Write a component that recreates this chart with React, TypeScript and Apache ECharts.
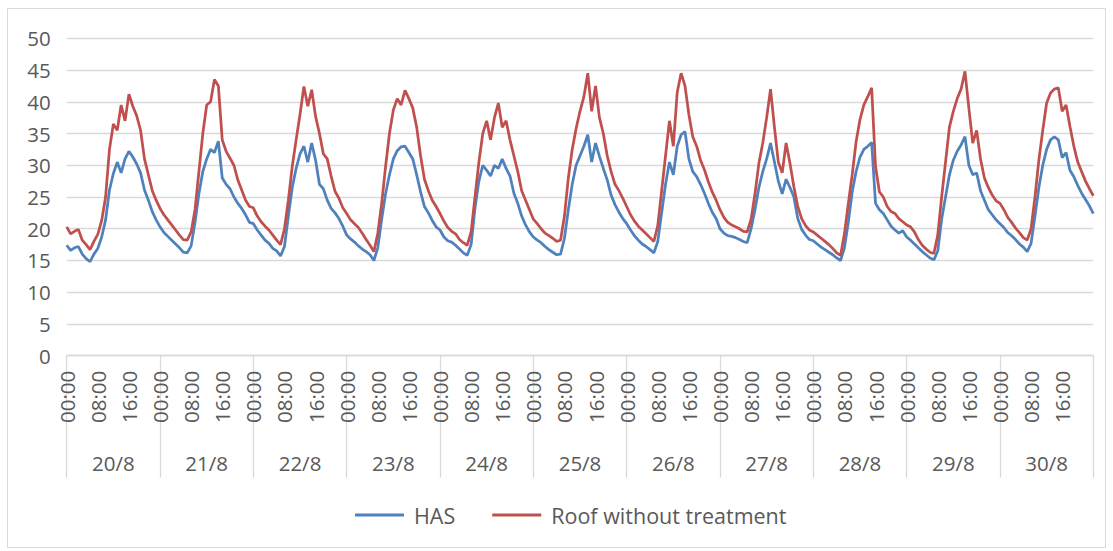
import React, { useEffect, useRef } from "react";
import * as echarts from "echarts";

const days = ["20/8", "21/8", "22/8", "23/8", "24/8", "25/8", "26/8", "27/8", "28/8", "29/8", "30/8"];
const timeLabels = ["00:00", "08:00", "16:00"];
const seriesNames = ["HAS", "Roof without treatment"];

// hourly readings, 20/8 00:00 .. 31/8 00:00
const hasValues = [
  // 20/8
  17.4, 16.6, 17.0, 17.2, 16.0, 15.3, 14.8, 16.0, 16.9, 18.7, 21.4, 26.1, 28.7, 30.5, 28.8, 31.0, 32.2, 31.3, 30.2, 28.8, 26.1, 24.5, 22.7, 21.4,
  // 21/8
  20.3, 19.4, 18.8, 18.2, 17.6, 17.0, 16.3, 16.2, 17.3, 21.0, 25.5, 29.0, 31.0, 32.5, 32.0, 33.8, 28.0, 27.0, 26.3, 25.0, 24.0, 23.2, 22.2, 21.0,
  // 22/8
  20.8, 19.8, 19.0, 18.2, 17.7, 16.9, 16.5, 15.7, 17.2, 22.0, 26.5, 29.5, 31.8, 33.0, 30.5, 33.5, 30.8, 27.0, 26.3, 24.5, 23.2, 22.5, 21.6, 20.4,
  // 23/8
  19.0, 18.4, 17.9, 17.3, 16.8, 16.4, 15.9, 15.0, 17.0, 21.5, 25.5, 28.5, 31.0, 32.3, 32.9, 33.0, 32.0, 31.0, 28.5, 25.8, 23.5, 22.5, 21.3, 20.3,
  // 24/8
  19.8, 18.7, 18.1, 17.9, 17.4, 16.8, 16.2, 15.8, 17.5, 23.3, 27.5, 30.0, 29.2, 28.3, 30.0, 29.5, 31.0, 29.5, 28.3, 25.6, 24.0, 22.0, 20.6, 19.5,
  // 25/8
  18.7, 18.2, 17.8, 17.2, 16.7, 16.3, 15.9, 16.0, 18.5, 23.0, 27.0, 30.0, 31.5, 33.0, 34.8, 30.5, 33.5, 31.4, 29.5, 27.7, 25.3, 23.8, 22.6, 21.6,
  // 26/8
  20.8, 19.8, 18.9, 18.2, 17.6, 17.2, 16.7, 16.2, 18.0, 22.5, 27.0, 30.5, 28.5, 33.0, 34.8, 35.3, 31.0, 29.0, 28.2, 27.0, 25.6, 24.0, 22.6, 21.6,
  // 27/8
  20.0, 19.3, 18.9, 18.8, 18.6, 18.3, 18.0, 17.8, 20.0, 23.0, 26.5, 29.0, 31.0, 33.5, 30.5, 27.5, 25.5, 27.8, 26.5, 25.0, 21.6, 19.9, 19.0, 18.3,
  // 28/8
  18.1, 17.6, 17.1, 16.7, 16.3, 15.9, 15.4, 15.0, 17.0, 21.0, 25.8, 29.0, 31.3, 32.5, 33.0, 33.6, 24.0, 23.0, 22.4, 21.4, 20.4, 19.8, 19.3, 19.7,
  // 29/8
  18.7, 18.2, 17.6, 17.0, 16.4, 15.9, 15.4, 15.1, 16.5, 21.5, 25.0, 28.5, 30.8, 32.2, 33.2, 34.5, 30.0, 28.5, 28.8, 26.0, 24.5, 23.0, 22.2, 21.4,
  // 30/8
  20.8, 20.2, 19.4, 18.9, 18.3, 17.6, 17.1, 16.4, 17.7, 22.0, 26.5, 30.0, 32.5, 34.0, 34.5, 34.0, 31.2, 32.0, 29.2, 28.2, 26.8, 25.6, 24.6, 23.6, 22.4,
];

const roofValues = [
  // 20/8
  20.3, 19.2, 19.6, 19.9, 18.2, 17.5, 16.7, 18.0, 19.1, 21.3, 25.0, 32.5, 36.5, 35.5, 39.5, 37.0, 41.2, 39.3, 37.8, 35.5, 31.0, 28.5, 26.0, 24.5,
  // 21/8
  23.2, 22.2, 21.4, 20.6, 19.8, 19.0, 18.3, 18.2, 19.5, 23.0, 29.0, 35.0, 39.5, 40.0, 43.5, 42.5, 34.0, 32.2, 31.1, 30.0, 27.7, 26.1, 24.5, 23.5,
  // 22/8
  23.3, 22.0, 21.1, 20.4, 19.8, 19.0, 18.2, 17.5, 20.0, 24.5, 29.8, 34.0, 38.0, 42.4, 39.3, 41.9, 37.7, 35.0, 31.8, 31.0, 28.3, 25.9, 24.8, 23.3,
  // 23/8
  22.4, 21.4, 20.8, 20.2, 19.3, 18.3, 17.4, 16.4, 19.3, 24.0, 29.8, 35.0, 38.7, 40.5, 39.5, 41.8, 40.5, 39.0, 36.0, 31.5, 27.8, 26.0, 24.5, 23.5,
  // 24/8
  22.4, 21.2, 20.2, 19.6, 19.2, 18.3, 17.8, 17.4, 19.5, 25.0, 30.5, 35.0, 37.0, 34.0, 37.5, 39.8, 36.0, 37.0, 34.0, 31.5, 29.0, 26.0, 24.5, 23.0,
  // 25/8
  21.5, 20.8, 20.0, 19.3, 18.9, 18.5, 18.0, 18.2, 22.0, 28.0, 32.5, 35.8, 38.5, 40.8, 44.5, 38.5, 42.5, 37.5, 35.0, 31.5, 29.0, 27.0, 26.0, 24.8,
  // 26/8
  23.5, 22.2, 21.2, 20.4, 19.8, 19.2, 18.6, 18.0, 20.5, 26.0, 31.5, 37.0, 33.0, 41.5, 44.5, 42.5, 38.0, 34.5, 33.0, 30.8, 29.3, 27.4, 25.8, 24.5,
  // 27/8
  23.0, 21.8, 21.0, 20.6, 20.3, 20.0, 19.6, 19.5, 21.5, 25.5, 30.3, 33.5, 37.5, 42.0, 36.0, 30.5, 28.8, 33.5, 30.3, 26.6, 23.5, 21.6, 20.5, 19.8,
  // 28/8
  19.5, 19.0, 18.5, 18.0, 17.5, 16.9, 16.2, 15.8, 19.2, 24.0, 28.5, 33.7, 37.2, 39.5, 40.8, 42.2, 29.8, 25.8, 25.0, 23.5, 22.7, 22.4, 21.6, 21.1,
  // 29/8
  20.6, 20.3, 19.5, 18.3, 17.4, 16.8, 16.3, 16.1, 19.0, 25.0, 30.5, 36.0, 38.5, 40.5, 42.0, 44.8, 39.0, 33.5, 35.5, 31.0, 28.0, 26.5, 25.3, 24.4,
  // 30/8
  24.0, 23.0, 21.8, 21.0, 20.1, 19.4, 18.6, 18.2, 20.0, 25.0, 30.8, 35.5, 39.8, 41.4, 42.0, 42.2, 38.5, 39.5, 36.1, 33.0, 30.5, 29.0, 27.5, 26.3, 25.2,
];

const FONT = "'Open Sans', 'Noto Sans', sans-serif";
const TEXT = "#595959";
const GRID = "#d9d9d9";

export default function App() {
  const ref = useRef<HTMLDivElement>(null);

  useEffect(() => {
    if (!ref.current) return;
    const chart = echarts.init(ref.current, null, { renderer: "svg" });
    const lastHour = hasValues.length - 1;
    const toPoints = (arr: number[]) => arr.map((v, i) => [i, v]);

    chart.setOption({
      animation: false,
      textStyle: { fontFamily: FONT },
      graphic: [
        {
          type: "rect",
          shape: { x: 7.5, y: 8.5, width: 1098, height: 539 },
          style: { fill: "none", stroke: GRID, lineWidth: 1 },
          silent: true,
        },
      ],
      grid: { left: 66.7, top: 38.3, width: 1026.6, height: 317.4, containLabel: false },
      legend: {
        data: seriesNames,
        left: 350,
        top: 499,
        icon: "rect",
        itemWidth: 49,
        itemHeight: 3,
        itemGap: 37,
        textStyle: { fontSize: 21.5, color: TEXT, fontFamily: FONT, padding: [0, 0, 0, 5] },
      },
      xAxis: [
        {
          type: "value",
          min: 0,
          max: lastHour,
          interval: 8,
          axisLine: { show: true, lineStyle: { color: GRID, width: 1.3 } },
          axisTick: { show: false },
          splitLine: { show: false },
          axisLabel: {
            rotate: 90,
            margin: 15,
            color: TEXT,
            fontSize: 20.5,
            fontFamily: FONT,
            showMinLabel: true,
            showMaxLabel: false,
            formatter: (v: number) => (v >= lastHour ? "" : timeLabels[Math.round(v / 8) % 3]),
          },
        },
        {
          type: "category",
          data: days,
          position: "bottom",
          boundaryGap: true,
          axisLine: { show: false },
          axisTick: { show: true, interval: 0, length: 122, lineStyle: { color: GRID, width: 1.3 } },
          splitLine: { show: false },
          axisLabel: { margin: 97, color: TEXT, fontSize: 20.5, fontFamily: FONT, interval: 0 },
        },
      ],
      yAxis: {
        type: "value",
        min: 0,
        max: 50,
        interval: 5,
        axisLine: { show: false },
        axisTick: { show: false },
        splitLine: { show: true, lineStyle: { color: GRID, width: 1.3 } },
        axisLabel: { margin: 16, color: TEXT, fontSize: 20.5, fontFamily: FONT },
      },
      series: [
        {
          name: seriesNames[0],
          type: "line",
          xAxisIndex: 0,
          data: toPoints(hasValues),
          showSymbol: false,
          symbol: "none",
          lineStyle: { color: "#4f81bd", width: 2.75 },
          itemStyle: { color: "#4f81bd" },
        },
        {
          name: seriesNames[1],
          type: "line",
          xAxisIndex: 0,
          data: toPoints(roofValues),
          showSymbol: false,
          symbol: "none",
          lineStyle: { color: "#c0504d", width: 2.75 },
          itemStyle: { color: "#c0504d" },
        },
      ],
    });

    return () => chart.dispose();
  }, []);

  return (
    <div
      ref={ref}
      style={{ position: "absolute", left: 0, top: 0, width: 1113, height: 551 }}
    />
  );
}
